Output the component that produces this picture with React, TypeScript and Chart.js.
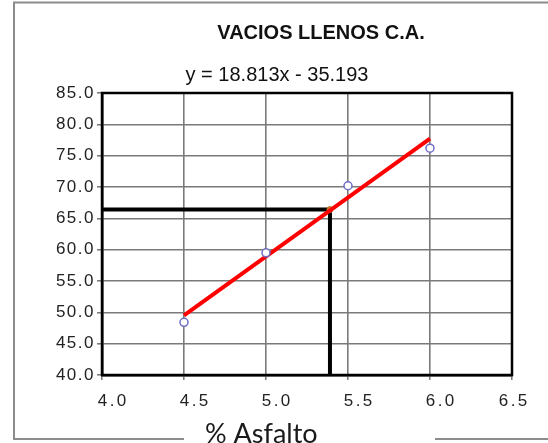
import React, { useEffect, useRef } from "react";
import { Chart, registerables } from "chart.js";

Chart.register(...registerables);

const chartTitle = "VACIOS LLENOS C.A.";
const equationText = "y = 18.813x - 35.193";
const xAxisTitle = "% Asfalto";

const asphaltPct = [4.5, 5.0, 5.5, 6.0];
const vaciosLlenos = [48.4, 59.5, 70.2, 76.2];

const trendX = [4.5, 6.0];
const trendY = [49.5, 77.7];

const designX = 5.39;
const designY = 66.4;

const xMin = 4.0;
const xMax = 6.5;
const xStep = 0.5;
const yMin = 40;
const yMax = 85;
const yStep = 5;

const xTickLabels = ["4.0", "4.5", "5.0", "5.5", "6.0", "6.5"];
const yTickLabels = ["40.0", "45.0", "50.0", "55.0", "60.0", "65.0", "70.0", "75.0", "80.0", "85.0"];

const decorPlugin = {
  id: "decor",
  beforeDraw(chart: any) {
    const ctx = chart.ctx;
    ctx.save();
    ctx.fillStyle = "#ffffff";
    ctx.fillRect(0, 0, chart.width, chart.height);
    ctx.strokeStyle = "#8c8c8c";
    ctx.lineWidth = 2;
    ctx.beginPath();
    ctx.moveTo(14, 440);
    ctx.lineTo(14, 2.5);
    ctx.lineTo(chart.width, 2.5);
    ctx.moveTo(13, 439);
    ctx.lineTo(184, 439);
    ctx.moveTo(435, 439);
    ctx.lineTo(chart.width, 439);
    ctx.stroke();
    ctx.restore();
  },
  beforeDatasetsDraw(chart: any) {
    const { ctx, chartArea } = chart;
    ctx.save();
    ctx.strokeStyle = "#000000";
    ctx.lineWidth = 2.5;
    ctx.strokeRect(
      chartArea.left,
      chartArea.top,
      chartArea.right - chartArea.left,
      chartArea.bottom - chartArea.top
    );
    ctx.restore();
  },
  afterDraw(chart: any) {
    const { ctx, chartArea } = chart;
    const xs = chart.scales.x;
    const ys = chart.scales.y;
    ctx.save();
    // title
    ctx.fillStyle = "#111111";
    ctx.textAlign = "center";
    ctx.textBaseline = "middle";
    ctx.font = "bold 20px 'Liberation Sans', Arial, sans-serif";
    ctx.fillText(chartTitle, 321, 33);
    ctx.font = "20px 'Liberation Sans', Arial, sans-serif";
    ctx.fillText(equationText, 277, 75);

    // y tick labels
    ctx.fillStyle = "#222222";
    ctx.font = "17px 'Liberation Sans', Arial, sans-serif";
    (ctx as any).letterSpacing = "1.5px";
    ctx.textAlign = "right";
    ctx.textBaseline = "middle";
    ys.ticks.forEach((t: any, i: number) => {
      const y = ys.getPixelForValue(t.value);
      const label = yTickLabels[i] ?? t.value.toFixed(1);
      ctx.fillText(label, chartArea.left - 7, y);
    });

    // x tick labels
    (ctx as any).letterSpacing = "2.5px";
    ctx.textAlign = "center";
    ctx.font = "17px 'Liberation Sans', Arial, sans-serif";
    xs.ticks.forEach((t: any, i: number) => {
      const x = Math.min(xs.getPixelForValue(t.value) + 10, chartArea.right + 1);
      const label = xTickLabels[i] ?? t.value.toFixed(1);
      ctx.fillText(label, x + 1.25, 401);
    });

    // axis title
    (ctx as any).letterSpacing = "0px";
    ctx.fillStyle = "#1a1a1a";
    ctx.textAlign = "left";
    ctx.textBaseline = "alphabetic";
    ctx.font = "27px Lato, 'Open Sans', sans-serif";
    ctx.fillText(xAxisTitle, 205, 443);
    ctx.restore();
  },
};

export default function App() {
  const canvasRef = useRef<HTMLCanvasElement | null>(null);

  useEffect(() => {
    if (!canvasRef.current) return;
    const chart = new Chart(canvasRef.current, {
      type: "scatter",
      data: {
        datasets: [
          {
            label: "Vacios llenos",
            data: asphaltPct.map((x, i) => ({ x, y: vaciosLlenos[i] })),
            showLine: false,
            pointRadius: 4,
            pointHoverRadius: 4,
            pointBorderWidth: 1.5,
            pointBorderColor: "#6e6ec4",
            pointBackgroundColor: "#ffffff",
            order: 0,
          },
          {
            label: "Tendencia",
            data: trendX.map((x, i) => ({ x, y: trendY[i] })),
            showLine: true,
            borderColor: "#ff0000",
            borderWidth: 4,
            pointRadius: 0,
            order: 1,
          },
          {
            label: "Diseño",
            data: [
              { x: xMin, y: designY },
              { x: designX, y: designY },
              { x: designX, y: yMin },
            ],
            showLine: true,
            borderColor: "#000000",
            borderWidth: 4,
            pointRadius: 0,
            order: 3,
          },
          {
            label: "Punto",
            data: [{ x: designX, y: designY }],
            showLine: false,
            pointRadius: 3,
            pointBackgroundColor: "#c0782e",
            pointBorderColor: "#c0782e",
            order: 2,
          },
        ],
      },
      options: {
        responsive: false,
        animation: false,
        devicePixelRatio: 1,
        layout: { padding: { left: 42, top: 93, right: 36, bottom: 38 } },
        plugins: {
          legend: { display: false },
          tooltip: { enabled: false },
          title: { display: false },
        },
        scales: {
          x: {
            type: "linear",
            min: xMin,
            max: xMax,
            afterFit: (s: any) => {
              s.height = 30;
            },
            ticks: { stepSize: xStep, display: false },
            grid: {
              color: "#7a7a7a",
              lineWidth: 1.6,
              drawTicks: true,
              tickLength: 5,
              tickColor: "#777777",
              tickWidth: 1.5,
            },
            border: { display: true, color: "#000000", width: 2.5 },
          },
          y: {
            type: "linear",
            min: yMin,
            max: yMax,
            afterFit: (s: any) => {
              s.width = 60;
            },
            ticks: { stepSize: yStep, display: false },
            grid: {
              color: "#7a7a7a",
              lineWidth: 1.6,
              drawTicks: true,
              tickLength: 5,
              tickColor: "#777777",
              tickWidth: 1.5,
            },
            border: { display: true, color: "#000000", width: 2.5 },
          },
        },
      },
      plugins: [decorPlugin],
    });
    return () => chart.destroy();
  }, []);

  return (
    <div style={{ position: "absolute", left: 0, top: 0, width: 548, height: 443, background: "#fff" }}>
      <canvas ref={canvasRef} width={548} height={443} style={{ display: "block" }} />
    </div>
  );
}
